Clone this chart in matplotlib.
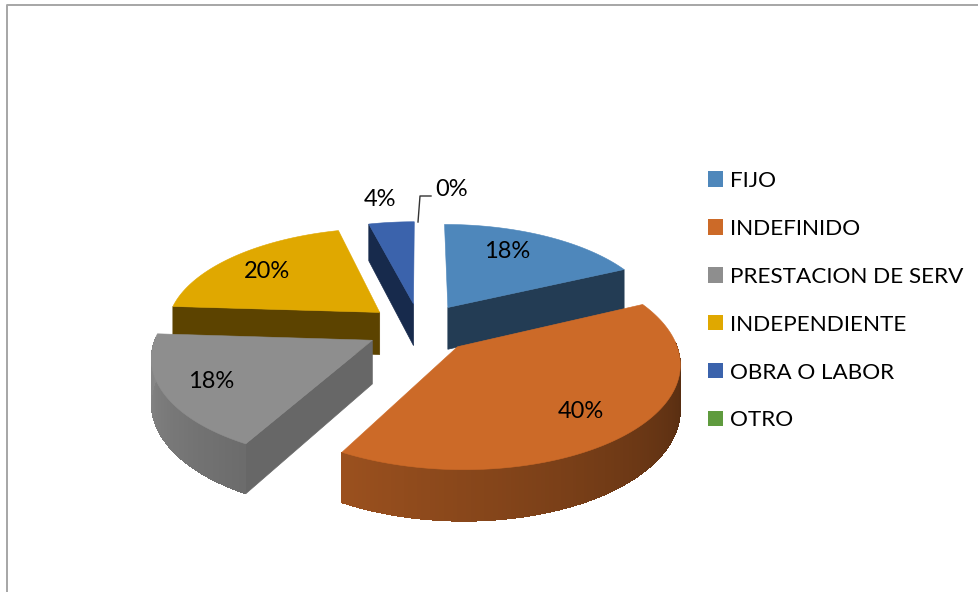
import numpy as np
import matplotlib
matplotlib.use("Agg")
import matplotlib.pyplot as plt
from matplotlib.patches import Patch, Polygon
from matplotlib.colors import to_rgb

categories = ["FIJO", "INDEFINIDO", "PRESTACION DE SERV", "INDEPENDIENTE", "OBRA O LABOR", "OTRO"]
values = [18, 40, 18, 20, 4, 0]
percent_labels = ["18%", "40%", "18%", "20%", "4%", "0%"]

top_colors = ["#4E87BB", "#CC6A28", "#8E8E8E", "#E0A800", "#3B63AC", "#5F9B3E"]
face_colors = ["#233C54", "#5A2E0E", "#676767", "#5C4300", "#172A4C", "#2E4D1E"]
label_xy = [(507, 251), (581, 411), (211, 381), (267, 271), (380, 199), (452, 189)]
draw_order = [4, 0, 3, 2, 1]

CX, CY = 420, 328
RX, RY = 214, 100
PERSP = 0.14
DEPTH = 43
EXPLODE = 0.25

plt.rcParams["font.family"] = ["Lato", "DejaVu Sans"]
fig = plt.figure(figsize=(9.79, 5.92), dpi=100)
ax = fig.add_axes([0, 0, 1, 1])
ax.set_xlim(0, 979)
ax.set_ylim(592, 0)
ax.axis("off")


def project(u, v, drop=0.0):
    s = 1 / (1 + PERSP * v)
    return CX + RX * u * s, CY - RY * v * s + drop * DEPTH * s


def side_shade(angle):
    return float(np.clip(0.42 + (angle - 100) / 170 * 0.53, 0.42, 0.95))


total = sum(values)
edges = np.concatenate([[0], np.cumsum(values)]) / total * 360

for i in draw_order:
    a0, a1 = edges[i], edges[i + 1]
    z = 2 + draw_order.index(i)
    mid = np.radians((a0 + a1) / 2)
    du, dv = EXPLODE * np.sin(mid), EXPLODE * np.cos(mid)
    angs = np.linspace(a0, a1, max(8, int(a1 - a0)))
    rad = np.radians(angs)
    us, vs = du + np.sin(rad), dv + np.cos(rad)

    # radial faces that look toward the viewer
    for ang, visible in ((a0, np.sin(np.radians(a0)) < -1e-6), (a1, np.sin(np.radians(a1)) > 1e-6)):
        if visible:
            r = np.radians(ang)
            eu, ev = du + np.sin(r), dv + np.cos(r)
            quad = [project(du, dv), project(eu, ev), project(eu, ev, 1), project(du, dv, 1)]
            ax.add_patch(Polygon(quad, closed=True, fc=face_colors[i], ec=face_colors[i], lw=0.5, zorder=z))

    # outer wall, one shaded strip per step of arc
    base = np.array(to_rgb(top_colors[i]))
    for k in range(len(angs) - 1):
        am = (angs[k] + angs[k + 1]) / 2
        if np.cos(np.radians(am)) < 0.03:
            col = base * side_shade(am)
            quad = [project(us[k], vs[k]), project(us[k + 1], vs[k + 1]),
                    project(us[k + 1], vs[k + 1], 1), project(us[k], vs[k], 1)]
            ax.add_patch(Polygon(quad, closed=True, fc=col, ec="none", antialiased=False, zorder=z))

    # top surface
    pts = [project(du, dv)] + [project(a, b) for a, b in zip(us, vs)]
    ax.add_patch(Polygon(pts, closed=True, fc=top_colors[i], ec=top_colors[i], lw=0.4, zorder=z))

for txt, (x, y) in zip(percent_labels, label_xy):
    ax.text(x, y, txt, ha="center", va="center", fontsize=17, color="black", zorder=20)

# leader line of the 0% label
ax.plot([418, 420, 431], [222, 196, 196], color="#333333", lw=1, zorder=20)

# chart frame
ax.plot([7, 7, 979], [592, 5, 5], color="#A6A6A6", lw=1.4, zorder=1, clip_on=False)

handles = [Patch(fc=c, ec="none") for c in top_colors]
ax.legend(handles, categories, loc="upper left", bbox_to_anchor=(708 / 979, 1 - 171 / 592),
          frameon=False, fontsize=16.2, handlelength=0.67, handleheight=0.67,
          handletextpad=0.32, labelspacing=1.24, borderpad=0, borderaxespad=0, labelcolor="black")

fig.savefig("out.png", dpi=100)
